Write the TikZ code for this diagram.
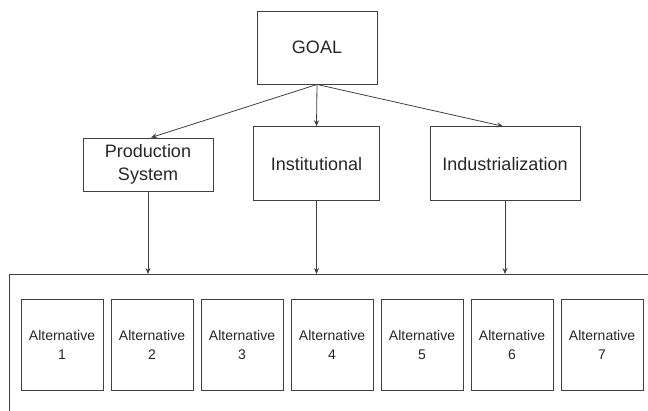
\documentclass[tikz,border=0pt]{standalone}
\usepackage{fontspec}
\setmainfont{Liberation Sans}
\usetikzlibrary{arrows.meta}

\begin{document}
\begin{tikzpicture}[x=1pt, y=-1pt, node distance=90pt,
        box/.style={draw=black!75, line width=0.9pt, inner sep=0pt, align=center,
            text=black!85, font=\fontsize{18}{23}\selectfont},
        alt/.style={box, minimum width=82pt, minimum height=91pt, font=\fontsize{14}{19}\selectfont},
        link/.style={draw=black!75, line width=0.8pt, -{Stealth[length=6pt, width=5pt]}}]
        \useasboundingbox (0,0) rectangle (648,410);
        \node [box, minimum width=120pt, minimum height=73pt] (goal) at (317,47.5) {GOAL};
        \node [box, minimum width=130pt, minimum height=53pt] (prod) at (148,164.5) {Production\\System};
        \node [box, minimum width=126pt, minimum height=74pt] (inst) at (316.5,163.7) {Institutional};
        \node [box, minimum width=150pt, minimum height=74pt] (ind) at (505,163.7) {Industrialization};
        \node [box, anchor=north west, minimum width=680pt, minimum height=160pt] (altbox) at (8.5,274) {};
        \node [alt] (alt1) at (62,345) {Alternative\\1};
        \node [alt, right of=alt1] (alt2) {Alternative\\2};
        \node [alt, right of=alt2] (alt3) {Alternative\\3};
        \node [alt, right of=alt3] (alt4) {Alternative\\4};
        \node [alt, right of=alt4] (alt5) {Alternative\\5};
        \node [alt, right of=alt5] (alt6) {Alternative\\6};
        \node [alt, right of=alt6] (alt7) {Alternative\\7};
        \draw [link] (goal.south) -- ([xshift=3pt]prod.north);
        \draw [link] (goal.south) -- (inst.north);
        \draw [link] (goal.south) -- ([xshift=-2pt]ind.north);
        \draw [link] (prod.south) -- (prod.south |- altbox.north);
        \draw [link] (inst.south) -- (inst.south |- altbox.north);
        \draw [link] (ind.south) -- (ind.south |- altbox.north);
    \end{tikzpicture}
\end{document}
